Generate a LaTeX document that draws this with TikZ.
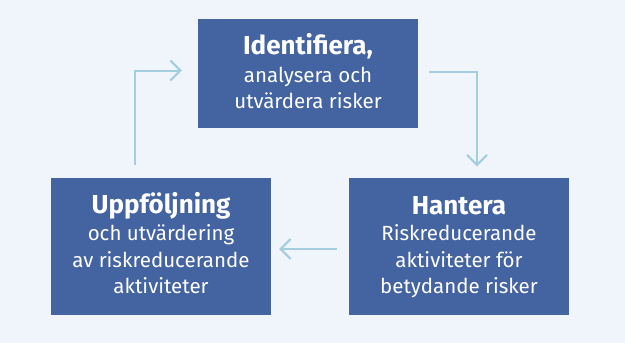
\documentclass[tikz,border=0pt]{standalone}
\usepackage{fontspec}
\setmainfont{Fira Sans}
\usetikzlibrary{arrows.meta}
\definecolor{bg}{HTML}{EFF5FA}
\definecolor{boxc}{HTML}{4363A1}
\definecolor{arrc}{HTML}{A5CDE0}
\tikzset{
  stepbox/.style={fill=boxc, draw=none, minimum width=220pt, minimum height=137pt, inner sep=0pt},
  ttl/.style={anchor=base, text=white, font=\fontsize{26}{30}\selectfont\bfseries, inner sep=0pt},
  sub/.style={anchor=base, text=white, font=\fontsize{20.5}{24}\selectfont, inner sep=0pt},
  arr/.style={draw=arrc, line width=2pt, -{Straight Barb[length=10pt,width=20pt,line width=2pt]}}
}
\begin{document}
\begin{tikzpicture}[x=1pt,y=-1pt]
\fill[bg] (0,0) rectangle (625,343);
\useasboundingbox (0,0) rectangle (625,343);
% boxes
\node[stepbox, minimum height=109pt] (top) at (308,73.5) {};
\node[stepbox] (left) at (161,246) {};
\node[stepbox] (right) at (459,246) {};
% top texts
\node[ttl] (t1) at (308,54) {Identifiera,};
\node[sub] (t2) at (308,82) {analysera och};
\node[sub] (t3) at (308,108) {utvärdera risker};
% left texts
\node[ttl] (l1) at (161,213) {Uppföljning};
\node[sub] (l2) at (161,240) {och utvärdering};
\node[sub] (l3) at (161,267) {av riskreducerande};
\node[sub] (l4) at (161,293) {aktiviteter};
% right texts
\node[ttl] (r1) at (459,214) {Hantera};
\node[sub] (r2) at (459,240) {Riskreducerande};
\node[sub] (r3) at (459,267) {aktiviteter för};
\node[sub] (r4) at (459,293) {betydande risker};
% arrows
\draw[arr] ([xshift=11pt,yshift=1.5pt]top.east) -| ([xshift=18pt,yshift=11pt]right.north);
\draw[arr] ([xshift=-12pt,yshift=-3pt]right.west) -- ([xshift=8pt,yshift=-3pt]left.east);
\draw[arr] ([xshift=-26pt,yshift=12pt]left.north) |- ([xshift=-16pt,yshift=3pt]top.west);
\end{tikzpicture}
\end{document}
